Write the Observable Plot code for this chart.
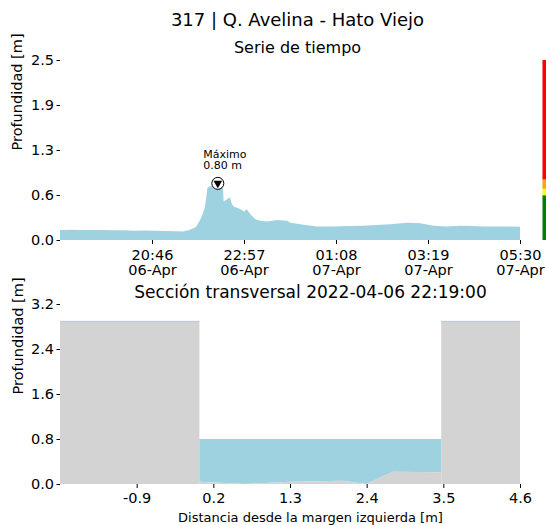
<!DOCTYPE html>
<html><head><meta charset="utf-8">
<script src="https://cdn.jsdelivr.net/npm/d3@7"></script>
<script src="https://cdn.jsdelivr.net/npm/@observablehq/plot@0.6"></script>
<style>body{margin:0;background:#fff;} #chart svg{display:block;}</style>
</head><body><div id="chart"></div>
<script>
// ---- Data ----
const chartTitle = "317 | Q. Avelina - Hato Viejo";
const seriesTitle = "Serie de tiempo";
const sectionTitle = "Sección transversal 2022-04-06 22:19:00";
const yLabel = "Profundidad [m]";
const xLabelSection = "Distancia desde la margen izquierda [m]";

const timeStart = "2022-04-06T18:35";
const timeEnd = "2022-04-07T05:30";
const seriesTimes = [
  "2022-04-06T18:35","2022-04-06T18:50","2022-04-06T19:05","2022-04-06T19:20","2022-04-06T19:35",
  "2022-04-06T19:50","2022-04-06T20:05","2022-04-06T20:20","2022-04-06T20:35","2022-04-06T20:50",
  "2022-04-06T21:05","2022-04-06T21:20","2022-04-06T21:30","2022-04-06T21:38","2022-04-06T21:44",
  "2022-04-06T21:48","2022-04-06T21:51","2022-04-06T21:55","2022-04-06T21:58","2022-04-06T22:01",
  "2022-04-06T22:03","2022-04-06T22:05","2022-04-06T22:08","2022-04-06T22:13","2022-04-06T22:16",
  "2022-04-06T22:19","2022-04-06T22:23","2022-04-06T22:27","2022-04-06T22:28","2022-04-06T22:33",
  "2022-04-06T22:37","2022-04-06T22:39","2022-04-06T22:42","2022-04-06T22:47","2022-04-06T22:52",
  "2022-04-06T22:57","2022-04-06T23:01","2022-04-06T23:06","2022-04-06T23:13","2022-04-06T23:20",
  "2022-04-06T23:30","2022-04-06T23:44","2022-04-06T23:58","2022-04-07T00:03","2022-04-07T00:17",
  "2022-04-07T00:41","2022-04-07T01:04","2022-04-07T01:25","2022-04-07T01:47","2022-04-07T02:05",
  "2022-04-07T02:25","2022-04-07T02:49","2022-04-07T03:08","2022-04-07T03:27","2022-04-07T03:46",
  "2022-04-07T04:05","2022-04-07T04:20","2022-04-07T04:38","2022-04-07T05:02","2022-04-07T05:15",
  "2022-04-07T05:30"
];
const seriesDepth = [
  0.14,0.145,0.14,0.14,0.14,
  0.138,0.137,0.13,0.132,0.13,
  0.127,0.123,0.12,0.135,0.16,
  0.18,0.22,0.29,0.36,0.45,
  0.58,0.73,0.75,0.76,0.78,
  0.80,0.77,0.75,0.54,0.57,
  0.60,0.52,0.47,0.45,0.43,
  0.40,0.43,0.36,0.29,0.27,
  0.26,0.28,0.27,0.24,0.22,
  0.19,0.19,0.195,0.20,0.21,
  0.22,0.24,0.235,0.20,0.19,
  0.20,0.195,0.19,0.19,0.188,
  0.185
];
const xTickTimes = ["2022-04-06T20:46","2022-04-06T22:57","2022-04-07T01:08","2022-04-07T03:19","2022-04-07T05:30"];
const yTicksSeries = [0, 0.63, 1.26, 1.89, 2.52];
const levelBounds = [0, 0.627, 0.717, 0.847, 2.52];
const levelColors = ["#008000", "#ffff00", "#ffa500", "#ff0000"];

const sectionX = [0, 0.65, 1.30, 2.06, 2.39, 2.78, 3.47];
const sectionBed = [0.04, 0.0, 0.04, 0.06, 0.0, 0.22, 0.21];
const waterLevel = 0.80;
const bankX1 = [-2.0, 3.47];
const bankX2 = [0.0, 4.6];
const bankTop = [2.9, 2.9];
const xTicksSection = [-0.9, 0.2, 1.3, 2.4, 3.5, 4.6];
const yTicksSection = [0, 0.8, 1.6, 2.4, 3.2];

// ---- Build ----
const font = "'DejaVu Sans', sans-serif";
const waterColor = "#9ed2e0";
const groundColor = "#d3d3d3";
const utc = s => new Date(s + "Z");
const series = seriesTimes.map((s, i) => ({t: utc(s), v: seriesDepth[i]}));
const maxRow = series.reduce((a, b) => (b.v > a.v ? b : a));
const tEnd = utc(timeEnd);
const barX1 = new Date(+tEnd + 32 * 60000);
const barX2 = new Date(+tEnd + 50 * 60000);
const levels = levelColors.map((c, i) => ({lo: levelBounds[i], hi: levelBounds[i + 1], c}));
const fmtH = d3.utcFormat("%H:%M"), fmtD = d3.utcFormat("%d-%b");

const seriesChart = Plot.plot({
  width: 546, height: 280,
  marginLeft: 60, marginRight: 26, marginTop: 60, marginBottom: 40,
  style: {fontFamily: font, fontSize: "14.5px", color: "#000", background: "#fff", overflow: "visible"},
  x: {type: "utc", domain: [utc(timeStart), tEnd]},
  y: {domain: [0, 2.52]},
  color: {type: "identity"},
  marks: [
    Plot.areaY(series, {x: "t", y: "v", fill: waterColor}),
    Plot.rect(levels, {x1: () => barX1, x2: () => barX2, y1: "lo", y2: "hi", fill: "c"}),
    Plot.axisY({ticks: yTicksSeries, tickFormat: d => d.toFixed(1), tickSize: 3.5, tickPadding: 3, label: null}),
    Plot.axisX({ticks: xTickTimes.map(utc), tickFormat: d => fmtH(d) + "\n" + fmtD(d), tickSize: 4, tickPadding: 4.5, lineHeight: 1.05, label: null}),
    Plot.dot([maxRow], {x: "t", y: "v", r: 6, stroke: "#000", fill: "#fff", strokeWidth: 1}),
    Plot.dot([maxRow], {x: "t", y: "v", symbol: "triangle", r: 3.2, fill: "#000", rotate: 180}),
    Plot.text([maxRow], {x: "t", y: "v", text: d => "Máximo\n" + d.v.toFixed(2) + " m", textAnchor: "start", lineAnchor: "top", dx: -14.5, dy: -34, fontSize: 11, lineHeight: 1.07}),
    Plot.text([chartTitle], {text: d => d, frameAnchor: "top", dx: 7, dy: -40.3, fontSize: 18, lineAnchor: "middle"}),
    Plot.text([seriesTitle], {text: d => d, frameAnchor: "top", dx: 7, dy: -12.5, fontSize: 16, lineAnchor: "middle"}),
    Plot.text([yLabel], {text: d => d, frameAnchor: "left", dx: -43, rotate: -90, fontSize: 14.5, lineAnchor: "middle"})
  ]
});

const section = sectionX.map((x, i) => ({x, bed: sectionBed[i]}));
const banks = bankX1.map((x1, i) => ({x1, x2: bankX2[i], top: bankTop[i]}));

const sectionChart = Plot.plot({
  width: 546, height: 245,
  marginLeft: 60, marginRight: 26, marginTop: 24, marginBottom: 41,
  style: {fontFamily: font, fontSize: "14.5px", color: "#000", background: "#fff", overflow: "visible"},
  x: {domain: [-2, 4.6]},
  y: {domain: [0, 3.2]},
  marks: [
    Plot.rect(banks, {x1: "x1", x2: "x2", y1: 0, y2: "top", fill: groundColor}),
    Plot.ruleY(banks, {x1: "x1", x2: "x2", y: "top", stroke: waterColor, strokeWidth: 1, strokeOpacity: 0.7}),
    Plot.areaY(section, {x: "x", y1: "bed", y2: () => waterLevel, fill: waterColor}),
    Plot.areaY(section, {x: "x", y: "bed", fill: groundColor}),
    Plot.axisY({ticks: yTicksSection, tickFormat: d => d.toFixed(1), tickSize: 3.5, tickPadding: 3, label: null}),
    Plot.axisX({ticks: xTicksSection, tickFormat: d => d.toFixed(1), tickSize: 4, tickPadding: 4.5, label: null}),
    Plot.text([sectionTitle], {text: d => d, frameAnchor: "top", dx: 20, dy: -11.5, fontSize: 17, lineAnchor: "middle"}),
    Plot.text([xLabelSection], {text: d => d, frameAnchor: "bottom", dx: 20, dy: 33, fontSize: 13, lineAnchor: "middle"}),
    Plot.text([yLabel], {text: d => d, frameAnchor: "left", dx: -42.5, rotate: -90, fontSize: 14.5, lineAnchor: "middle"})
  ]
});

document.getElementById("chart").append(seriesChart, sectionChart);
</script>
</body></html>
